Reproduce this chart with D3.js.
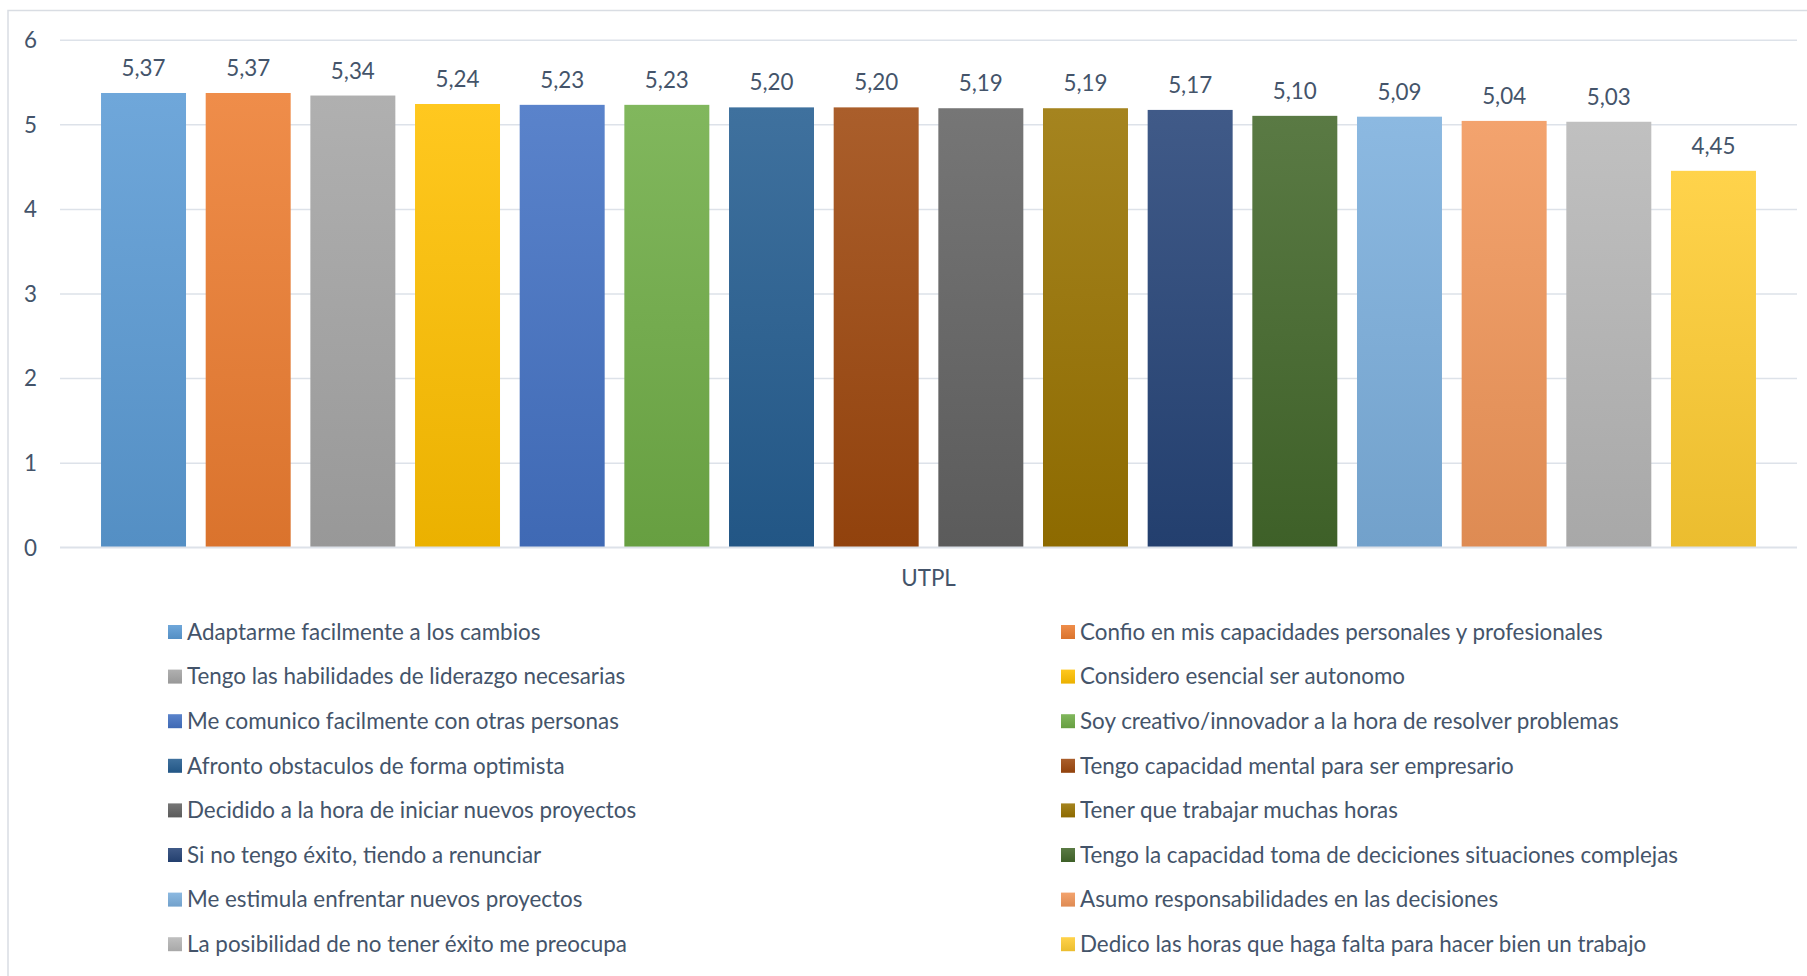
<!DOCTYPE html>
<html>
<head>
<meta charset="utf-8">
<script src="https://cdn.jsdelivr.net/npm/d3@7"></script>
<style>
  body { margin: 0; background: #fff; }
  svg text { font-family: Lato, "Open Sans", sans-serif; fill: #44546a; }
</style>
</head>
<body>
<svg id="chart"></svg>
<script>
const categories = ["UTPL"];

const seriesNames = [
  "Adaptarme facilmente a los cambios",
  "Confio en mis capacidades personales y profesionales",
  "Tengo las habilidades de liderazgo necesarias",
  "Considero esencial ser autonomo",
  "Me comunico facilmente con otras personas",
  "Soy creativo/innovador a la hora de resolver problemas",
  "Afronto obstaculos de forma optimista",
  "Tengo capacidad mental para ser empresario",
  "Decidido a la hora de iniciar nuevos proyectos",
  "Tener que trabajar muchas horas",
  "Si no tengo éxito, tiendo a renunciar",
  "Tengo la capacidad toma de deciciones situaciones complejas",
  "Me estimula enfrentar nuevos proyectos",
  "Asumo responsabilidades en las decisiones",
  "La posibilidad de no tener éxito me preocupa",
  "Dedico las horas que haga falta para hacer bien un trabajo"
];

const values = [5.37, 5.37, 5.34, 5.24, 5.23, 5.23, 5.20, 5.20, 5.19, 5.19, 5.17, 5.10, 5.09, 5.04, 5.03, 4.45];

const colors = [
  "#5b9bd5", "#ed7d31", "#a5a5a5", "#ffc000", "#4472c4", "#70ad47",
  "#255e91", "#9e480e", "#636363", "#997300", "#264478", "#43682b",
  "#7cafdd", "#f1975a", "#b7b7b7", "#ffcd33"
];

const yTicks = [0, 1, 2, 3, 4, 5, 6];

const width = 1807;
const height = 976;
const plot = { left: 60, right: 1797, top: 39.7, bottom: 547.3 };
const fontSize = "22.4px";

const svg = d3.select("svg#chart")
  .attr("width", width)
  .attr("height", height);

// chart frame (only left and top edges show in the crop)
svg.append("path")
  .attr("d", `M8,${height} L8,10.5 L${width},10.5`)
  .attr("fill", "none")
  .attr("stroke", "#d9dde3")
  .attr("stroke-width", 1.5);

// gradients, light top to darker bottom
const defs = svg.append("defs");
colors.forEach((c, i) => {
  const g = defs.append("linearGradient")
    .attr("id", "grad" + i)
    .attr("x1", 0).attr("y1", 0).attr("x2", 0).attr("y2", 1);
  g.append("stop").attr("offset", "0%").attr("stop-color", d3.interpolateRgb(c, "#fff")(0.12));
  g.append("stop").attr("offset", "100%").attr("stop-color", d3.interpolateRgb(c, "#000")(0.08));
});

const y = d3.scaleLinear().domain([0, 6]).range([plot.bottom, plot.top]);

const x = d3.scaleBand()
  .domain(seriesNames)
  .range([plot.left, plot.right])
  .paddingInner(0.188)
  .paddingOuter(0.392);

const xCat = d3.scaleBand().domain(categories).range([plot.left, plot.right]);

const fmt = d3.formatLocale({ decimal: ",", thousands: ".", grouping: [3], currency: ["", ""] }).format(".2f");

// y axis + gridlines
const yAxis = d3.axisLeft(y)
  .tickValues(yTicks)
  .tickSize(-(plot.right - plot.left))
  .tickPadding(23)
  .tickFormat(d3.format("d"));

const gy = svg.append("g")
  .attr("transform", `translate(${plot.left},0)`)
  .call(yAxis);
gy.select(".domain").remove();
gy.selectAll(".tick line").attr("stroke", "#dde2e9").attr("stroke-width", 1.5);
gy.selectAll(".tick text").style("font-size", fontSize).attr("dy", "0.35em");

// bars
svg.append("g")
  .selectAll("rect")
  .data(values)
  .join("rect")
  .attr("x", (d, i) => x(seriesNames[i]))
  .attr("y", d => y(d))
  .attr("width", x.bandwidth())
  .attr("height", d => y(0) - y(d))
  .attr("fill", (d, i) => `url(#grad${i})`);

// baseline over bars
svg.append("line")
  .attr("x1", plot.left).attr("x2", plot.right)
  .attr("y1", y(0)).attr("y2", y(0))
  .attr("stroke", "#dde2e9").attr("stroke-width", 1.5);

// value labels
svg.append("g")
  .selectAll("text")
  .data(values)
  .join("text")
  .attr("x", (d, i) => x(seriesNames[i]) + x.bandwidth() / 2)
  .attr("y", d => y(d) - 17)
  .attr("text-anchor", "middle")
  .style("font-size", fontSize)
  .text(d => fmt(d));

// category axis
const gx = svg.append("g")
  .attr("transform", `translate(0,${plot.bottom})`)
  .call(d3.axisBottom(xCat).tickSize(0).tickPadding(23));
gx.select(".domain").remove();
gx.selectAll(".tick text").style("font-size", fontSize);

// legend, two columns
const legendCols = [168, 1061];
const legendTop = 632;
const legendStep = 44.6;

const legend = svg.append("g")
  .selectAll("g")
  .data(seriesNames)
  .join("g")
  .attr("transform", (d, i) => `translate(${legendCols[i % 2]},${legendTop + Math.floor(i / 2) * legendStep})`);

legend.append("rect")
  .attr("x", 0).attr("y", -7)
  .attr("width", 14).attr("height", 14)
  .attr("fill", (d, i) => `url(#grad${i})`);

legend.append("text")
  .attr("x", 19)
  .attr("dy", "0.35em")
  .style("font-size", fontSize)
  .text(d => d);
</script>
</body>
</html>
